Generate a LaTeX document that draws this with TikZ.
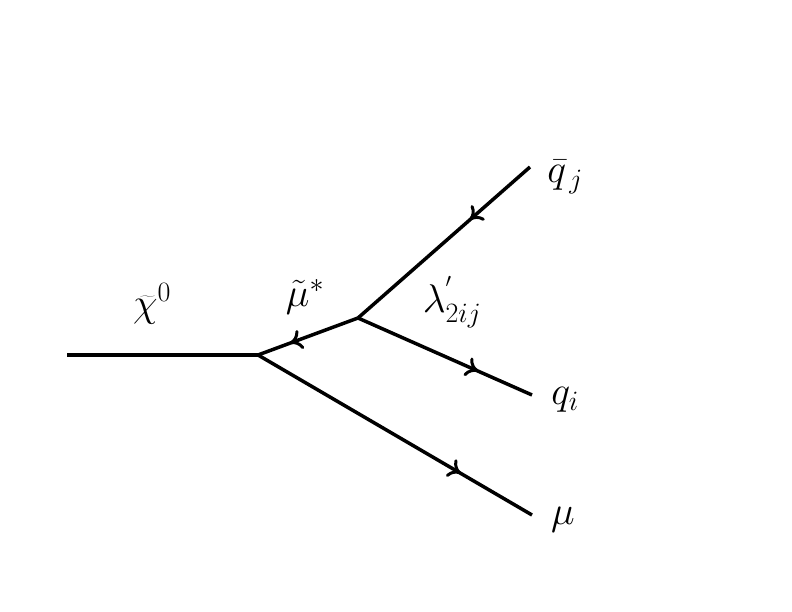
\RequirePackage{fix-cm}
\documentclass[tikz,border=0pt]{standalone}
\usepackage{fontspec}
\setmainfont{Liberation Serif}
\usetikzlibrary{decorations.markings,arrows.meta}
\begin{document}
\begin{tikzpicture}[x=1pt,y=1pt,
  line/.style={line width=3.5pt},
  arr/.style={postaction={decorate},decoration={markings,mark=at position #1 with {\arrow{To[length=12pt,width=20pt,line width=3pt]}}}},
  lab/.style={font=\fontsize{40}{44}\selectfont}]
\useasboundingbox (0,0) rectangle (792,612);
\coordinate (a) at (67,257);
\coordinate (v1) at (258,257);
\coordinate (v2) at (358,294);
\coordinate (qb) at (530,445);
\coordinate (qi) at (532,217);
\coordinate (mu) at (532,97);
\draw[line] (a) -- (v1);
\draw[line,arr=0.35] (qb) -- (v2);
\draw[line,arr=0.68] (v2) -- (v1);
\draw[line,arr=0.69] (v2) -- (qi);
\draw[line,arr=0.74] (v1) -- (mu);
\node[lab] (lchi) at (152,308) {$\widetilde{\chi}^{0}$};
\node[lab] (lsmu) at (305,315) {$\tilde{\mu}^{*}$};
\node[lab] (llam) at (452,310) {$\lambda^{'}_{2ij}$};
\node[lab] (lqb) at (565,435) {$\bar{q}_{\,j}$};
\node[lab] (lqi) at (565,212) {$q_{i}$};
\node[lab] (lmu) at (563,92) {$\mu$};
\end{tikzpicture}
\end{document}
